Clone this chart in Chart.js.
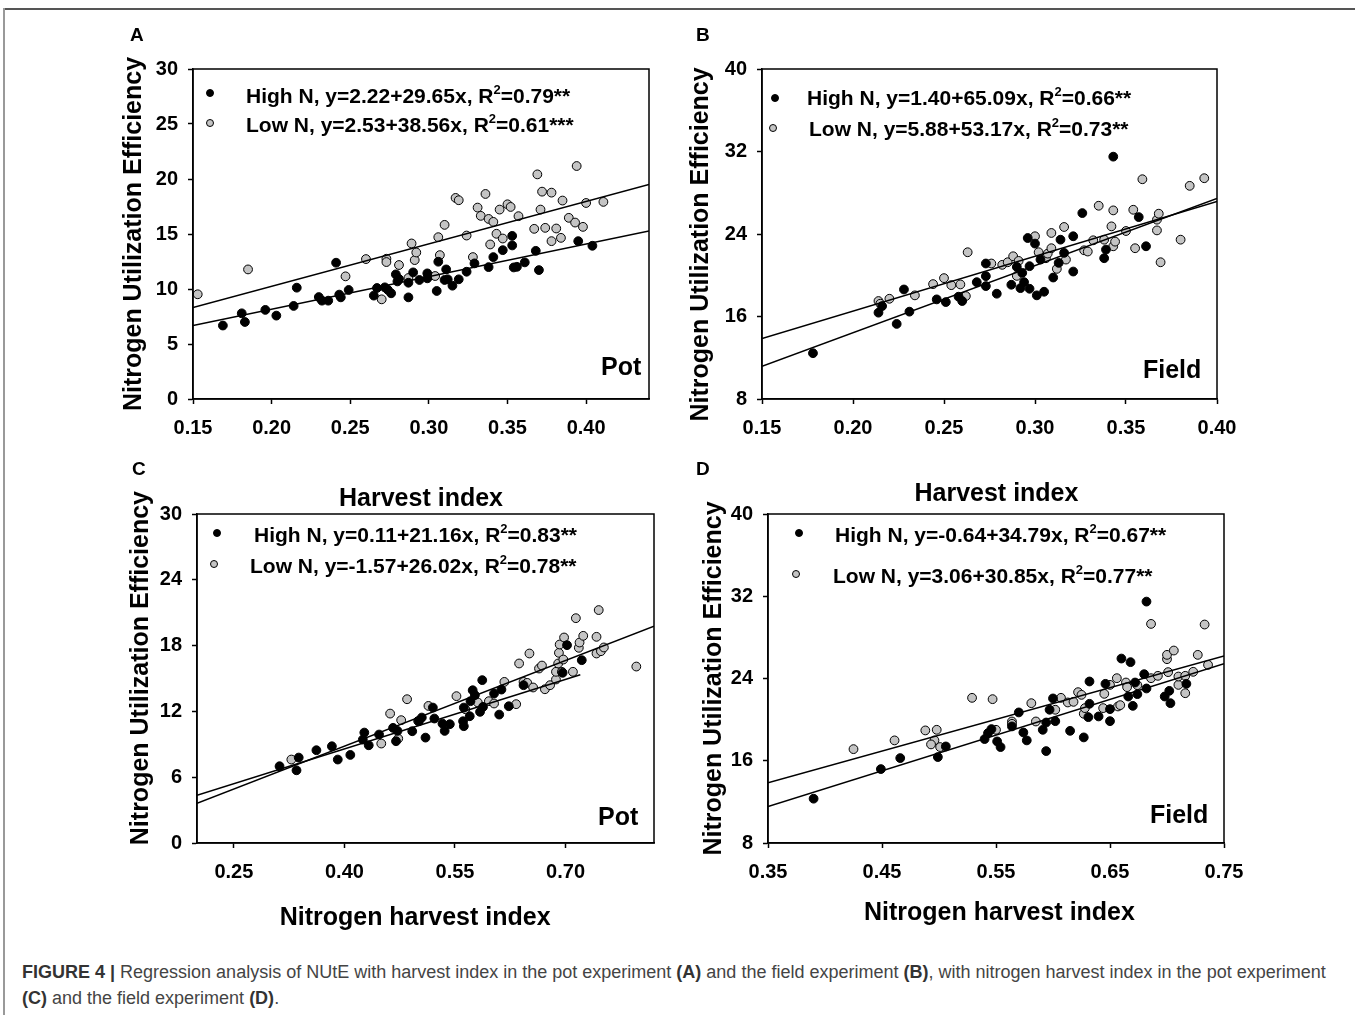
<!DOCTYPE html>
<html>
<head>
<meta charset="utf-8">
<title>Figure 4</title>
<script src="https://cdn.jsdelivr.net/npm/chart.js@4.4.1/dist/chart.umd.min.js"></script>
<style>
    body { margin: 0; background: #fff; width: 1355px; height: 1015px; position: relative; overflow: hidden;
           font-family: "Liberation Sans", Arial, sans-serif; }
    canvas { position: absolute; }
    .frame-top { position: absolute; left: 3px; top: 8px; width: 1352px; border-top: 2px solid #555; }
    .frame-left { position: absolute; left: 3px; top: 8px; height: 1007px; border-left: 2px solid #999; }
    .lbl { position: absolute; font-weight: bold; color: #000; white-space: nowrap; line-height: 1; }
    .letter { font-size: 19px; }
    .leg { font-size: 21px; }
    .leg sup { font-size: 13px; vertical-align: 9px; line-height: 0; }
    .site { font-size: 25px; }
    .dot { position: absolute; width: 8px; height: 8px; border-radius: 50%; box-sizing: border-box; border: 1px solid #000; }
    .caption { position: absolute; left: 22px; top: 959px; font-size: 18px; line-height: 26px; color: #444;
               white-space: nowrap; }
    .caption b { color: #333; }
</style>
</head>
<body>
<div class="frame-top"></div>
<div class="frame-left"></div>

<canvas id="chartA" width="570" height="500" style="left:100px;top:20px"></canvas>
<canvas id="chartB" width="600" height="500" style="left:670px;top:20px"></canvas>
<canvas id="chartC" width="570" height="490" style="left:100px;top:460px"></canvas>
<canvas id="chartD" width="600" height="490" style="left:670px;top:460px"></canvas>

<!-- panel letters -->
<div class="lbl letter" style="left:130px;top:25px">A</div>
<div class="lbl letter" style="left:696px;top:25px">B</div>
<div class="lbl letter" style="left:132px;top:459px">C</div>
<div class="lbl letter" style="left:696px;top:459px">D</div>

<!-- legends -->
<div class="dot" style="left:206px;top:89px;background:#000"></div>
<div class="lbl leg" style="left:246px;top:85px">High N, y=2.22+29.65x, R<sup>2</sup>=0.79**</div>
<div class="dot" style="left:206px;top:119px;background:#c4c4c4"></div>
<div class="lbl leg" style="left:246px;top:114px">Low N, y=2.53+38.56x, R<sup>2</sup>=0.61***</div>

<div class="dot" style="left:771px;top:94px;background:#000"></div>
<div class="lbl leg" style="left:807px;top:87px">High N, y=1.40+65.09x, R<sup>2</sup>=0.66**</div>
<div class="dot" style="left:769px;top:124px;background:#c4c4c4"></div>
<div class="lbl leg" style="left:809px;top:118px">Low N, y=5.88+53.17x, R<sup>2</sup>=0.73**</div>

<div class="dot" style="left:213px;top:529px;background:#000"></div>
<div class="lbl leg" style="left:254px;top:524px">High N, y=0.11+21.16x, R<sup>2</sup>=0.83**</div>
<div class="dot" style="left:210px;top:560px;background:#c4c4c4"></div>
<div class="lbl leg" style="left:250px;top:555px">Low N, y=-1.57+26.02x, R<sup>2</sup>=0.78**</div>

<div class="dot" style="left:795px;top:529px;background:#000"></div>
<div class="lbl leg" style="left:835px;top:524px">High N, y=-0.64+34.79x, R<sup>2</sup>=0.67**</div>
<div class="dot" style="left:792px;top:570px;background:#c4c4c4"></div>
<div class="lbl leg" style="left:833px;top:565px">Low N, y=3.06+30.85x, R<sup>2</sup>=0.77**</div>

<!-- experiment labels -->
<div class="lbl site" style="left:601px;top:354px">Pot</div>
<div class="lbl site" style="left:1143px;top:357px">Field</div>
<div class="lbl site" style="left:598px;top:804px">Pot</div>
<div class="lbl site" style="left:1150px;top:802px">Field</div>

<div class="caption" id="caption"><b>FIGURE 4 |</b> Regression analysis of NUtE with harvest index in the pot experiment <b>(A)</b> and the field experiment <b>(B)</b>, with nitrogen harvest index in the pot experiment<br><b>(C)</b> and the field experiment <b>(D)</b>.</div>

<script>
// ---- data ----

// A: NUtE vs harvest index, pot experiment
const potHiXTicks = [0.15, 0.20, 0.25, 0.30, 0.35, 0.40];
const potHiYTicks = [0, 5, 10, 15, 20, 25, 30];
const potHiHigh = [
    [0.169, 6.68], [0.181, 7.79], [0.183, 7.0], [0.196, 8.1], [0.203, 7.58], [0.214, 8.46], [0.216, 10.12],
    [0.230, 9.27], [0.232, 8.94], [0.236, 8.94], [0.241, 12.39], [0.243, 9.49], [0.244, 9.24], [0.249, 9.91],
    [0.265, 9.40], [0.267, 10.09], [0.272, 10.15], [0.274, 9.91], [0.276, 9.61], [0.279, 11.33], [0.280, 10.69],
    [0.281, 10.91], [0.287, 10.57], [0.287, 9.24], [0.290, 11.51], [0.294, 10.82], [0.299, 11.42], [0.299, 10.97],
    [0.305, 9.82], [0.306, 12.48], [0.310, 10.82], [0.311, 11.78], [0.312, 10.88], [0.315, 10.30], [0.319, 10.88],
    [0.324, 11.57], [0.329, 12.33], [0.338, 11.99], [0.341, 12.90], [0.347, 13.53], [0.353, 14.83], [0.353, 13.96],
    [0.354, 11.96], [0.356, 12.02], [0.361, 12.42], [0.368, 13.47], [0.370, 11.72], [0.395, 14.35], [0.404, 13.93]
];
const potHiLow = [
    [0.153, 9.52], [0.185, 11.78], [0.247, 11.15], [0.260, 12.72], [0.270, 9.06], [0.273, 12.75], [0.273, 12.45],
    [0.281, 12.18], [0.287, 11.0], [0.289, 14.14], [0.291, 12.63], [0.292, 13.32], [0.304, 11.18], [0.306, 14.71],
    [0.307, 13.08], [0.310, 15.83], [0.317, 18.28], [0.319, 18.07], [0.324, 14.86], [0.328, 12.90], [0.331, 17.4],
    [0.333, 16.65], [0.336, 18.64], [0.338, 16.37], [0.339, 14.05], [0.341, 16.10], [0.343, 15.02], [0.345, 17.22],
    [0.347, 14.59], [0.350, 17.70], [0.352, 17.46], [0.357, 16.62], [0.367, 15.47], [0.369, 20.42], [0.371, 17.22],
    [0.372, 18.85], [0.374, 15.56], [0.378, 18.76], [0.378, 14.35], [0.381, 15.5], [0.384, 14.65], [0.385, 18.04],
    [0.389, 16.47], [0.393, 16.04], [0.394, 21.18], [0.398, 15.65], [0.400, 17.82], [0.411, 17.92]
];
const potHiHighLine = [[0.15, 6.67], [0.44, 15.27]];
const potHiLowLine = [[0.15, 8.31], [0.44, 19.50]];

// B: NUtE vs harvest index, field experiment
const fieldHiXTicks = [0.15, 0.20, 0.25, 0.30, 0.35, 0.40];
const fieldHiYTicks = [8, 16, 24, 32, 40];
const fieldHiHigh = [
    [0.178, 12.44], [0.214, 16.37], [0.216, 17.01], [0.224, 15.28], [0.228, 18.62], [0.231, 16.47], [0.246, 17.66],
    [0.251, 17.40], [0.258, 17.92], [0.260, 17.50], [0.268, 19.33], [0.273, 21.14], [0.273, 19.91], [0.273, 18.95],
    [0.279, 18.21], [0.287, 19.08], [0.290, 20.81], [0.292, 18.75], [0.293, 20.23], [0.294, 19.33], [0.296, 23.61],
    [0.297, 18.69], [0.297, 20.88], [0.300, 23.07], [0.301, 18.05], [0.303, 21.52], [0.305, 18.40], [0.310, 19.78],
    [0.313, 21.20], [0.314, 23.45], [0.316, 22.17], [0.321, 20.36], [0.321, 23.78], [0.326, 26.03], [0.338, 21.65],
    [0.339, 22.49], [0.343, 31.50], [0.357, 25.64], [0.361, 22.81]
];
const fieldHiLow = [
    [0.214, 17.50], [0.215, 17.24], [0.220, 17.72], [0.234, 18.05], [0.244, 19.14], [0.250, 19.72], [0.254, 19.04],
    [0.259, 19.11], [0.262, 17.98], [0.263, 22.23], [0.276, 21.14], [0.282, 21.01], [0.285, 21.26], [0.288, 21.84],
    [0.290, 19.94], [0.291, 21.39], [0.300, 23.78], [0.302, 22.23], [0.306, 21.65], [0.307, 22.10], [0.309, 22.62],
    [0.309, 24.10], [0.312, 20.62], [0.316, 24.68], [0.317, 21.52], [0.327, 22.42], [0.329, 22.30], [0.332, 23.39],
    [0.335, 26.74], [0.338, 23.45], [0.342, 24.74], [0.343, 26.29], [0.343, 22.81], [0.344, 23.26], [0.350, 24.29],
    [0.354, 26.35], [0.355, 22.62], [0.359, 29.31], [0.367, 24.35], [0.367, 25.39], [0.368, 25.97], [0.369, 21.26],
    [0.380, 23.45], [0.385, 28.67], [0.393, 29.41]
];
const fieldHiHighLine = [[0.15, 11.16], [0.40, 27.44]];
const fieldHiLowLine = [[0.15, 13.86], [0.40, 27.15]];

// C: NUtE vs nitrogen harvest index, pot experiment
const potNhiXTicks = [0.25, 0.40, 0.55, 0.70];
const potNhiYTicks = [0, 6, 12, 18, 24, 30];
const potNhiHigh = [
    [0.312, 7.0], [0.335, 6.63], [0.338, 7.79], [0.362, 8.46], [0.383, 8.82], [0.391, 7.61], [0.408, 8.03],
    [0.427, 10.07], [0.425, 9.43], [0.433, 8.91], [0.447, 9.89], [0.466, 10.50], [0.470, 9.28], [0.472, 10.22],
    [0.492, 10.19], [0.501, 11.10], [0.505, 11.44], [0.510, 9.61], [0.520, 12.35], [0.522, 11.35], [0.533, 10.89],
    [0.536, 10.22], [0.543, 10.83], [0.561, 11.10], [0.562, 10.65], [0.562, 12.35], [0.570, 11.56], [0.571, 12.93],
    [0.574, 13.93], [0.577, 13.48], [0.584, 11.96], [0.587, 14.85], [0.588, 12.41], [0.603, 13.63], [0.610, 11.71],
    [0.613, 13.99], [0.623, 12.47], [0.643, 14.39], [0.696, 15.52], [0.702, 18.04], [0.722, 16.67]
];
const potNhiLow = [
    [0.328, 7.61], [0.450, 9.07], [0.462, 11.80], [0.473, 9.52], [0.477, 11.20], [0.485, 13.11], [0.500, 11.13],
    [0.514, 12.50], [0.552, 13.39], [0.564, 12.20], [0.581, 12.81], [0.596, 12.93], [0.603, 12.72], [0.617, 14.69],
    [0.633, 12.66], [0.637, 16.37], [0.643, 14.69], [0.648, 14.60], [0.651, 17.28], [0.656, 14.18], [0.664, 15.91],
    [0.668, 16.18], [0.672, 14.02], [0.679, 14.39], [0.687, 14.91], [0.687, 15.61], [0.690, 16.37], [0.691, 17.34],
    [0.692, 18.10], [0.695, 15.61], [0.697, 16.73], [0.698, 18.74], [0.710, 15.61], [0.714, 20.50], [0.718, 17.80],
    [0.719, 18.28], [0.724, 18.89], [0.742, 18.80], [0.742, 17.28], [0.745, 21.24], [0.748, 17.49], [0.752, 17.83],
    [0.796, 16.09]
];
const potNhiHighLine = [[0.20, 4.34], [0.72, 15.35]];
const potNhiLowLine = [[0.20, 3.63], [0.82, 19.77]];

// D: NUtE vs nitrogen harvest index, field experiment
const fieldNhiXTicks = [0.35, 0.45, 0.55, 0.65, 0.75];
const fieldNhiYTicks = [8, 16, 24, 32, 40];
const fieldNhiHigh = [
    [0.390, 12.31], [0.449, 15.19], [0.466, 16.26], [0.499, 16.36], [0.506, 17.39], [0.540, 18.11], [0.543, 18.69],
    [0.546, 19.08], [0.551, 17.88], [0.554, 17.33], [0.564, 19.34], [0.570, 20.70], [0.574, 18.75], [0.577, 17.98],
    [0.591, 19.01], [0.594, 16.94], [0.594, 19.72], [0.597, 20.96], [0.600, 22.06], [0.602, 19.85], [0.615, 18.91],
    [0.627, 18.27], [0.631, 20.24], [0.632, 23.71], [0.632, 21.54], [0.640, 20.31], [0.646, 23.48], [0.650, 21.02],
    [0.650, 19.85], [0.660, 25.94], [0.666, 22.25], [0.668, 25.59], [0.670, 21.34], [0.672, 23.61], [0.674, 22.48],
    [0.680, 24.42], [0.682, 31.48], [0.682, 23.03], [0.698, 22.25], [0.702, 22.80], [0.703, 21.60], [0.717, 23.48]
];
const fieldNhiLow = [
    [0.425, 17.13], [0.461, 17.98], [0.488, 18.95], [0.498, 19.01], [0.496, 17.98], [0.493, 17.59], [0.501, 17.33],
    [0.529, 22.12], [0.547, 21.99], [0.550, 19.01], [0.564, 19.82], [0.564, 19.59], [0.581, 21.60], [0.585, 19.82],
    [0.602, 20.96], [0.607, 22.12], [0.613, 21.67], [0.618, 21.73], [0.622, 22.67], [0.625, 22.41], [0.627, 20.57],
    [0.628, 21.12], [0.644, 21.12], [0.645, 22.51], [0.650, 23.38], [0.656, 24.03], [0.657, 21.28], [0.659, 21.41],
    [0.664, 23.61], [0.665, 23.16], [0.674, 23.35], [0.686, 29.31], [0.686, 24.03], [0.692, 24.26], [0.700, 25.88],
    [0.700, 26.30], [0.701, 24.62], [0.706, 26.72], [0.710, 23.38], [0.710, 24.19], [0.716, 24.26], [0.716, 22.57],
    [0.723, 24.65], [0.727, 26.30], [0.733, 29.25], [0.736, 25.33]
];
const fieldNhiHighLine = [[0.35, 11.54], [0.75, 25.45]];
const fieldNhiLowLine = [[0.35, 13.86], [0.75, 26.20]];

// ---- drawing ----

const FONT = "'Liberation Sans', Arial, sans-serif";
const yTitle = "Nitrogen Utilization Efficiency";

// closed plot frame like SigmaPlot
const boxPlugin = {
    id: "box",
    afterDraw(chart) {
        const a = chart.chartArea;
        const ctx = chart.ctx;
        ctx.save();
        ctx.strokeStyle = "#000";
        ctx.lineWidth = 1.5;
        ctx.strokeRect(a.left, a.top, a.right - a.left, a.bottom - a.top);
        ctx.restore();
    }
};

function toXY(pts) {
    return pts.map(p => ({ x: p[0], y: p[1] }));
}

function lineSet(pts) {
    return {
        type: "line",
        data: toXY(pts),
        borderColor: "#000",
        borderWidth: 1.5,
        pointRadius: 0,
        fill: false,
        tension: 0
    };
}

function pointSet(label, pts, fill) {
    return {
        label,
        data: toXY(pts),
        backgroundColor: fill,
        borderColor: "#000",
        borderWidth: 1,
        pointRadius: 4.4
    };
}

function axis(pos, min, max, ticks, title, titlePad, size, digits) {
    return {
        type: "linear",
        position: pos,
        min,
        max,
        afterBuildTicks: s => { s.ticks = ticks.map(v => ({ value: v })); },
        afterFit: s => {
            // fixed box sizes so the plot areas line up with the figure
            if (pos === "bottom") s.height = size; else s.width = size;
            s.paddingLeft = 0;
            s.paddingRight = 0;
            s.paddingTop = 0;
            s.paddingBottom = 0;
        },
        grid: { drawOnChartArea: false, drawTicks: true, tickLength: 5, tickColor: "#000", tickWidth: 1.5 },
        border: { display: true, color: "#000", width: 1.5 },
        ticks: {
            color: "#000",
            autoSkip: false,
            maxRotation: 0,
            padding: pos === "bottom" ? 12 : 10,
            font: { family: FONT, size: 20, weight: "bold" },
            callback: v => v.toFixed(digits)
        },
        title: {
            display: true,
            text: title,
            color: "#000",
            font: { family: FONT, size: 25, weight: "bold" },
            padding: pos === "bottom" ? { top: 0, bottom: titlePad } : { top: titlePad, bottom: 0 }
        }
    };
}

function buildPanel(id, p) {
    new Chart(document.getElementById(id), {
        type: "scatter",
        data: {
            datasets: [
                lineSet(p.highLine),
                lineSet(p.lowLine),
                pointSet("High N", p.high, "#000"),
                pointSet("Low N", p.low, "#c4c4c4")
            ]
        },
        options: {
            responsive: false,
            animation: false,
            layout: { padding: p.pad },
            plugins: { legend: { display: false }, tooltip: { enabled: false } },
            scales: { x: p.x, y: p.y }
        },
        plugins: [boxPlugin]
    });
}

buildPanel("chartA", {
    high: potHiHigh, low: potHiLow, highLine: potHiHighLine, lowLine: potHiLowLine,
    pad: { left: 0, top: 49, right: 21, bottom: 0 },
    x: axis("bottom", 0.15, 0.44, potHiXTicks, "Harvest index", 6, 121, 2),
    y: axis("left", 0, 30, potHiYTicks, yTitle, 19, 93, 0)
});

buildPanel("chartB", {
    high: fieldHiHigh, low: fieldHiLow, highLine: fieldHiHighLine, lowLine: fieldHiLowLine,
    pad: { left: 0, top: 49, right: 53, bottom: 0 },
    x: axis("bottom", 0.15, 0.40, fieldHiXTicks, "  Harvest index", 11, 121, 2),
    y: axis("left", 8, 40, fieldHiYTicks, yTitle + "   ", 16, 92, 0)
});

buildPanel("chartC", {
    high: potNhiHigh, low: potNhiLow, highLine: potNhiHighLine, lowLine: potNhiLowLine,
    pad: { left: 0, top: 54, right: 16, bottom: 0 },
    x: axis("bottom", 0.20, 0.82, potNhiXTicks, "Nitrogen harvest index   ", 17, 107, 2),
    y: axis("left", 0, 30, potNhiYTicks, "   " + yTitle, 26, 97, 0)
});

buildPanel("chartD", {
    high: fieldNhiHigh, low: fieldNhiLow, highLine: fieldNhiHighLine, lowLine: fieldNhiLowLine,
    pad: { left: 0, top: 54, right: 46, bottom: 0 },
    x: axis("bottom", 0.35, 0.75, fieldNhiXTicks, " Nitrogen harvest index", 22, 107, 2),
    y: axis("left", 8, 40, fieldNhiYTicks, yTitle, 29, 98, 0)
});
</script>
</body>
</html>
